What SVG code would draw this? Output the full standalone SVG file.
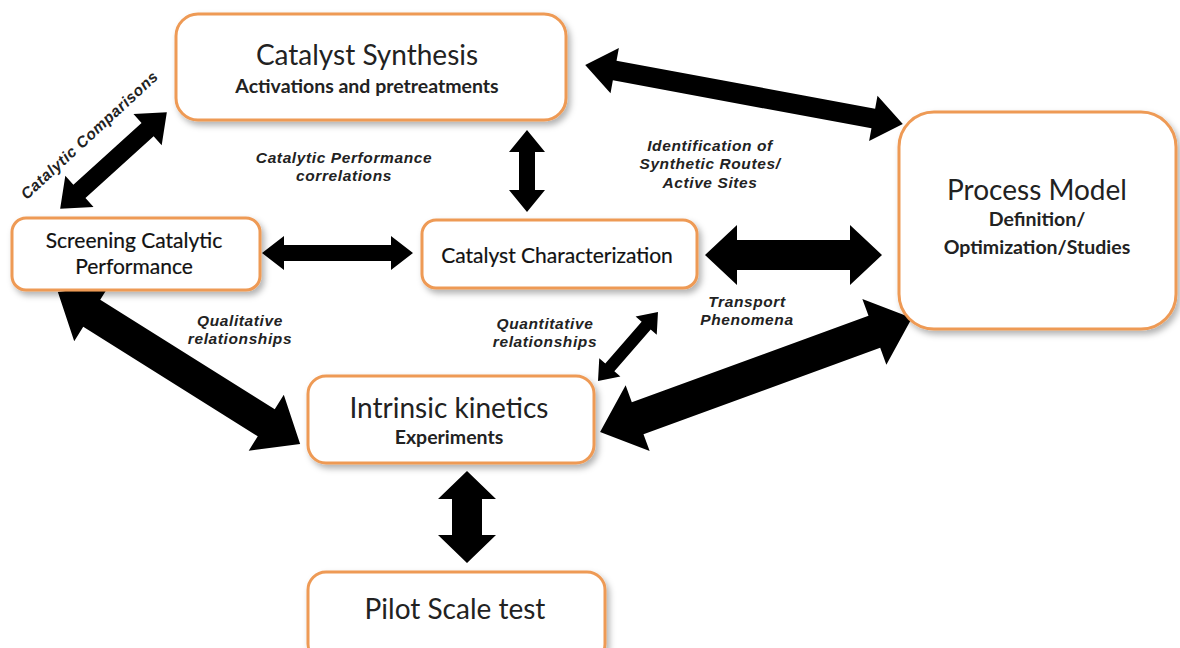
<svg xmlns="http://www.w3.org/2000/svg" width="1180" height="648" viewBox="0 0 1180 648">
<defs>
<filter id="sh" x="-10%" y="-10%" width="125%" height="130%">
<feDropShadow dx="3" dy="4" stdDeviation="3" flood-color="#000" flood-opacity="0.3"/>
</filter>
<style>
.box{fill:#fff;stroke:#EE9A55;stroke-width:3;filter:url(#sh)}
.big{font-family:Lato,"Open Sans",sans-serif;font-size:28px;fill:#222;text-anchor:middle}
.sub{font-family:Lato,"Open Sans",sans-serif;font-size:19.5px;font-weight:bold;fill:#222;text-anchor:middle}
.mid{font-family:Lato,"Open Sans",sans-serif;font-size:21px;fill:#111;stroke:#111;stroke-width:0.2;text-anchor:middle}
.lbl{font-family:"Liberation Sans",Arial,sans-serif;font-size:15.5px;font-weight:bold;font-style:italic;letter-spacing:0.6px;fill:#222;text-anchor:middle}
.arr{fill:#000}
</style>
</defs>
<rect width="1180" height="648" fill="#fff"/>
<g id="connectors">
<polygon class="arr" transform="translate(744,94.5) rotate(10.5)" points="-161.5,0 -131.5,-23 -131.5,-10 131.5,-10 131.5,-23 161.5,0 131.5,23 131.5,10 -131.5,10 -131.5,23"/>
<polygon class="arr" transform="translate(527,171) rotate(90)" points="-41,0 -19,-18 -19,-8 19,-8 19,-18 41,0 19,18 19,8 -19,8 -19,18"/>
<polygon class="arr" transform="translate(113.5,160.5) rotate(137.8)" points="-72,0 -46,-21 -46,-9 46,-9 46,-21 72,0 46,21 46,9 -46,9 -46,21"/>
<polygon class="arr" transform="translate(337.5,253) rotate(0)" points="-75.5,0 -53.5,-17 -53.5,-8 53.5,-8 53.5,-17 75.5,0 53.5,17 53.5,8 -53.5,8 -53.5,17"/>
<polygon class="arr" transform="translate(793.5,255) rotate(0)" points="-88.5,0 -56.5,-30 -56.5,-15 56.5,-15 56.5,-30 88.5,0 56.5,30 56.5,15 -56.5,15 -56.5,30"/>
<polygon class="arr" transform="translate(179,368) rotate(32.1)" points="-143,0 -103,-33 -103,-16 103,-16 103,-33 143,0 103,33 103,16 -103,16 -103,33"/>
<polygon class="arr" transform="translate(628,346.5) rotate(131)" points="-45.7,0 -27.7,-14 -27.7,-6 27.7,-6 27.7,-14 45.7,0 27.7,14 27.7,6 -27.7,6 -27.7,14"/>
<polygon class="arr" transform="translate(756,375) rotate(-20.07)" points="-166,0 -126,-35 -126,-17 126,-17 126,-35 166,0 126,35 126,17 -126,17 -126,35"/>
<polygon class="arr" transform="translate(467,517) rotate(90)" points="-46,0 -18,-29 -18,-15 18,-15 18,-29 46,0 18,29 18,15 -18,15 -18,29"/>
</g>
<g id="synthesis">
<rect class="box" x="176" y="14" width="390" height="106" rx="22"/>
<text class="big" x="367" y="65">Catalyst Synthesis</text>
<text class="sub" x="367" y="93">Activations and pretreatments</text>
</g>
<g id="screening">
<rect class="box" x="12" y="218" width="248" height="72" rx="14"/>
<text class="mid" x="134" y="248">Screening Catalytic</text>
<text class="mid" x="134" y="274">Performance</text>
</g>
<g id="characterization">
<rect class="box" x="422" y="220" width="275" height="68" rx="14"/>
<text class="mid" x="557" y="263">Catalyst Characterization</text>
</g>
<g id="process">
<rect class="box" x="899" y="112" width="277" height="217" rx="35"/>
<text class="big" x="1037" y="200">Process Model</text>
<text class="sub" x="1037" y="226">Definition/</text>
<text class="sub" x="1037" y="254">Optimization/Studies</text>
</g>
<g id="kinetics">
<rect class="box" x="308" y="376" width="286" height="87" rx="18"/>
<text class="big" x="449" y="418">Intrinsic kinetics</text>
<text class="sub" x="449" y="444">Experiments</text>
</g>
<g id="pilot">
<rect class="box" x="308" y="572" width="297" height="90" rx="18"/>
<text class="big" x="455" y="619">Pilot Scale test</text>
</g>
<g id="labels">
<text class="lbl" transform="translate(93,139) rotate(-42.7)">Catalytic Comparisons</text>
<text class="lbl" x="344" y="163">Catalytic Performance</text>
<text class="lbl" x="344" y="181">correlations</text>
<text class="lbl" x="710" y="151">Identification of</text>
<text class="lbl" x="710" y="169">Synthetic Routes/</text>
<text class="lbl" x="710" y="188">Active Sites</text>
<text class="lbl" x="747" y="307">Transport</text>
<text class="lbl" x="747" y="325">Phenomena</text>
<text class="lbl" x="240" y="326">Qualitative</text>
<text class="lbl" x="240" y="344">relationships</text>
<text class="lbl" x="545" y="329">Quantitative</text>
<text class="lbl" x="545" y="347">relationships</text>
</g>
</svg>
